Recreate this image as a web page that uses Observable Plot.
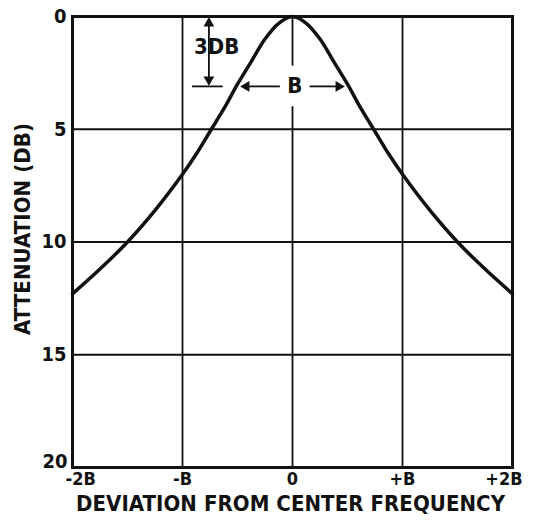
<!DOCTYPE html>
<html>
<head>
<meta charset="utf-8">
<script src="https://cdn.jsdelivr.net/npm/d3@7"></script>
<script src="https://cdn.jsdelivr.net/npm/@observablehq/plot@0.6"></script>
<style>
  html, body { margin: 0; padding: 0; background: #fff; }
  svg { display: block; }
</style>
</head>
<body>
<div id="chart"></div>
<script>
// Deviation from center frequency, in units of the 3 dB bandwidth B
const deviation = [-2, -1.75, -1.5, -1.25, -1, -0.875, -0.75, -0.625, -0.5, -0.375, -0.25, -0.125, 0,
                   0.125, 0.25, 0.375, 0.5, 0.625, 0.75, 0.875, 1, 1.25, 1.5, 1.75, 2];
// Attenuation (dB)
const attenuation = [12.3, 11.2, 10.0, 8.6, 7.0, 6.1, 5.1, 4.1, 3.0, 2.0, 1.0, 0.3, 0,
                     0.3, 1.0, 2.0, 3.0, 4.1, 5.1, 6.1, 7.0, 8.6, 10.0, 11.2, 12.3];

const xTicks = [-2, -1, 0, 1, 2];
const xTickLabels = ["-2B", "-B", "0", "+B", "+2B"];
const yTicks = [0, 5, 10, 15, 20];
const yTickLabels = ["0", "5", "10", "15", "20"];
const xTitle = "DEVIATION FROM CENTER FREQUENCY";
const yTitle = "ATTENUATION (DB)";

// Annotation values
const threeDbLevel = 3.1;
const threeDbLabel = "3DB";
const threeDbX = -0.76;
const bandLabel = "B";
const halfBand = 0.48;

const curve = deviation.map((d, i) => ({x: d, y: attenuation[i]}));
const font = "'Liberation Sans Narrow', 'DejaVu Sans Condensed', 'Liberation Sans', sans-serif";

const chart = Plot.plot({
  width: 545,
  height: 521,
  marginLeft: 72,
  marginRight: 33,
  marginTop: 16,
  marginBottom: 54,
  style: {fontFamily: font, fontWeight: "bold", color: "#111", background: "#fff"},
  x: {domain: [-2, 2], axis: null},
  y: {domain: [0, 20], reverse: true, axis: null},
  marks: [
    Plot.gridX(xTicks.slice(1, -1), {stroke: "#111", strokeOpacity: 1, strokeWidth: 1.8}),
    Plot.gridY(yTicks.slice(1, -1), {stroke: "#111", strokeOpacity: 1, strokeWidth: 1.8}),
    // white gap behind the B label
    Plot.rect([0], {x1: -0.13, x2: 0.13, y1: 2.2, y2: 4.0, fill: "#fff"}),
    Plot.frame({stroke: "#111", strokeWidth: 3}),
    Plot.line(curve, {x: "x", y: "y", curve: "catmull-rom", stroke: "#111", strokeWidth: 3.5}),
    // 3 dB marker
    Plot.ruleX([threeDbX], {y1: 0.35, y2: threeDbLevel - 0.35, stroke: "#111", strokeWidth: 1.8}),
    Plot.ruleY([threeDbLevel], {x1: threeDbX - 0.15, x2: threeDbX + 0.13, stroke: "#111", strokeWidth: 1.8}),
    Plot.dot([0], {x: threeDbX, y: 0.3, symbol: "triangle", r: 4, fill: "#111", stroke: null}),
    Plot.dot([0], {x: threeDbX, y: threeDbLevel - 0.3, symbol: "triangle", rotate: 180, r: 4, fill: "#111", stroke: null}),
    Plot.text([threeDbLabel], {x: threeDbX + 0.07, y: 1.37, text: d => d, fontSize: 22, fill: "#111"}),
    // B bandwidth arrows
    Plot.ruleY([threeDbLevel], {x1: -0.11, x2: -halfBand + 0.08, stroke: "#111", strokeWidth: 1.8}),
    Plot.ruleY([threeDbLevel], {x1: 0.16, x2: halfBand - 0.08, stroke: "#111", strokeWidth: 1.8}),
    Plot.dot([0], {x: -halfBand + 0.06, y: threeDbLevel, symbol: "triangle", rotate: -90, r: 4, fill: "#111", stroke: null}),
    Plot.dot([0], {x: halfBand - 0.06, y: threeDbLevel, symbol: "triangle", rotate: 90, r: 4, fill: "#111", stroke: null}),
    Plot.text([bandLabel], {x: 0.02, y: threeDbLevel, text: d => d, fontSize: 22, fill: "#111"}),
    // y tick labels
    Plot.text(yTicks.slice(0, -1), {y: d => d, text: (d, i) => yTickLabels[i], frameAnchor: "left", textAnchor: "end", lineAnchor: "middle", dx: -6, fontSize: 20, fill: "#111"}),
    Plot.text(yTicks.slice(-1), {y: d => d, text: () => yTickLabels[yTickLabels.length - 1], frameAnchor: "left", textAnchor: "end", lineAnchor: "middle", dx: -5, dy: -6, fontSize: 20, fill: "#111"}),
    // x tick labels
    Plot.text(xTicks.slice(1, -1), {x: d => d, text: (d, i) => xTickLabels[i + 1], frameAnchor: "bottom", lineAnchor: "middle", dy: 12, fontSize: 18, fill: "#111"}),
    Plot.text(xTicks.slice(0, 1), {x: d => d, text: () => xTickLabels[0], frameAnchor: "bottom", textAnchor: "start", lineAnchor: "middle", dx: -7, dy: 12, fontSize: 18, fill: "#111"}),
    Plot.text(xTicks.slice(-1), {x: d => d, text: () => xTickLabels[xTickLabels.length - 1], frameAnchor: "bottom", textAnchor: "end", lineAnchor: "middle", dx: 10, dy: 12, fontSize: 18, fill: "#111"}),
    // axis titles
    Plot.text([xTitle], {frameAnchor: "bottom", text: d => d, textAnchor: "middle", lineAnchor: "middle", dx: -2, dy: 36, fontSize: 22, fill: "#111"}),
    Plot.text([yTitle], {frameAnchor: "left", text: d => d, textAnchor: "middle", lineAnchor: "middle", rotate: -90, dx: -50, dy: -13, fontSize: 22, fill: "#111"})
  ]
});

// stretch the titles to the lettering width of the reference
chart.querySelectorAll("text").forEach(t => {
  if (t.textContent === yTitle) { t.setAttribute("textLength", "212"); t.setAttribute("lengthAdjust", "spacing"); }
  if (t.textContent === xTitle) { t.setAttribute("textLength", "429"); t.setAttribute("lengthAdjust", "spacing"); }
});

document.getElementById("chart").appendChild(chart);
</script>
</body>
</html>
